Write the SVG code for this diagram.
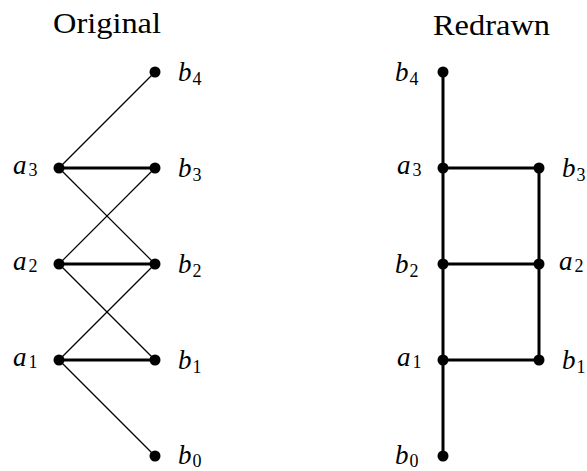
<svg xmlns="http://www.w3.org/2000/svg" width="587" height="471" viewBox="0 0 587 471">
<rect width="587" height="471" fill="#fff"/>
<text font-family="Liberation Serif" font-size="30" x="53" y="33" textLength="108" lengthAdjust="spacingAndGlyphs">Original</text>
<text font-family="Liberation Serif" font-size="30" x="433" y="35" textLength="117" lengthAdjust="spacingAndGlyphs">Redrawn</text>
<g id="connectors" stroke="#000" fill="none">
<g stroke-width="1.2">
<line x1="59" y1="168" x2="155" y2="72"/>
<line x1="59" y1="168" x2="155" y2="264"/>
<line x1="59" y1="264" x2="155" y2="168"/>
<line x1="59" y1="264" x2="155" y2="360"/>
<line x1="59" y1="360" x2="155" y2="264"/>
<line x1="59" y1="360" x2="155" y2="456"/>
</g>
<g stroke-width="3">
<line x1="59" y1="168" x2="155" y2="168"/>
<line x1="59" y1="264" x2="155" y2="264"/>
<line x1="59" y1="360" x2="155" y2="360"/>
<line x1="443" y1="72" x2="443" y2="456"/>
<line x1="539" y1="168" x2="539" y2="360"/>
<line x1="443" y1="168" x2="539" y2="168"/>
<line x1="443" y1="264" x2="539" y2="264"/>
<line x1="443" y1="360" x2="539" y2="360"/>
</g>
</g>
<g id="L-a3"><circle cx="59" cy="168" r="5.5"/><text font-family="Liberation Serif" font-style="italic" font-size="27" x="13" y="174">a<tspan font-style="normal" font-size="18" dx="2" dy="2">3</tspan></text></g>
<g id="L-a2"><circle cx="59" cy="264" r="5.5"/><text font-family="Liberation Serif" font-style="italic" font-size="27" x="13" y="270">a<tspan font-style="normal" font-size="18" dx="2" dy="2">2</tspan></text></g>
<g id="L-a1"><circle cx="59" cy="360" r="5.5"/><text font-family="Liberation Serif" font-style="italic" font-size="27" x="13" y="366">a<tspan font-style="normal" font-size="18" dx="2" dy="2">1</tspan></text></g>
<g id="L-b4"><circle cx="155" cy="72" r="5.5"/><text font-family="Liberation Serif" font-style="italic" font-size="27" x="178" y="81">b<tspan font-style="normal" font-size="18" dx="1" dy="4">4</tspan></text></g>
<g id="L-b3"><circle cx="155" cy="168" r="5.5"/><text font-family="Liberation Serif" font-style="italic" font-size="27" x="178" y="177">b<tspan font-style="normal" font-size="18" dx="1" dy="4">3</tspan></text></g>
<g id="L-b2"><circle cx="155" cy="264" r="5.5"/><text font-family="Liberation Serif" font-style="italic" font-size="27" x="178" y="273">b<tspan font-style="normal" font-size="18" dx="1" dy="4">2</tspan></text></g>
<g id="L-b1"><circle cx="155" cy="360" r="5.5"/><text font-family="Liberation Serif" font-style="italic" font-size="27" x="178" y="369">b<tspan font-style="normal" font-size="18" dx="1" dy="4">1</tspan></text></g>
<g id="L-b0"><circle cx="155" cy="456" r="5.5"/><text font-family="Liberation Serif" font-style="italic" font-size="27" x="178" y="464">b<tspan font-style="normal" font-size="18" dx="1" dy="3">0</tspan></text></g>
<g id="R-b4"><circle cx="443" cy="72" r="5.5"/><text font-family="Liberation Serif" font-style="italic" font-size="27" x="395" y="81">b<tspan font-style="normal" font-size="18" dx="1" dy="4">4</tspan></text></g>
<g id="R-a3"><circle cx="443" cy="168" r="5.5"/><text font-family="Liberation Serif" font-style="italic" font-size="27" x="397" y="174">a<tspan font-style="normal" font-size="18" dx="2" dy="2">3</tspan></text></g>
<g id="R-b2"><circle cx="443" cy="264" r="5.5"/><text font-family="Liberation Serif" font-style="italic" font-size="27" x="395" y="273">b<tspan font-style="normal" font-size="18" dx="1" dy="4">2</tspan></text></g>
<g id="R-a1"><circle cx="443" cy="360" r="5.5"/><text font-family="Liberation Serif" font-style="italic" font-size="27" x="397" y="366">a<tspan font-style="normal" font-size="18" dx="2" dy="2">1</tspan></text></g>
<g id="R-b0"><circle cx="443" cy="456" r="5.5"/><text font-family="Liberation Serif" font-style="italic" font-size="27" x="395" y="464">b<tspan font-style="normal" font-size="18" dx="1" dy="3">0</tspan></text></g>
<g id="R-b3"><circle cx="539" cy="168" r="5.5"/><text font-family="Liberation Serif" font-style="italic" font-size="27" x="562" y="177">b<tspan font-style="normal" font-size="18" dx="1" dy="4">3</tspan></text></g>
<g id="R-a2"><circle cx="539" cy="264" r="5.5"/><text font-family="Liberation Serif" font-style="italic" font-size="27" x="559" y="270">a<tspan font-style="normal" font-size="18" dx="2" dy="2">2</tspan></text></g>
<g id="R-b1"><circle cx="539" cy="360" r="5.5"/><text font-family="Liberation Serif" font-style="italic" font-size="27" x="562" y="369">b<tspan font-style="normal" font-size="18" dx="1" dy="4">1</tspan></text></g>
</svg>
